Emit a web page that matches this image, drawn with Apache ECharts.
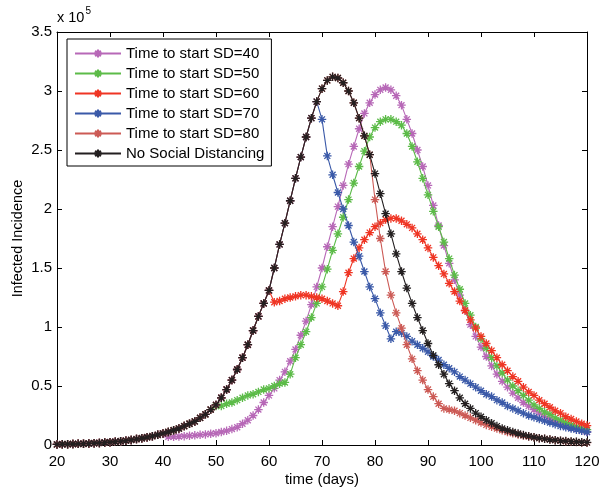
<!DOCTYPE html>
<html>
<head>
<meta charset="utf-8">
<script src="https://cdn.jsdelivr.net/npm/echarts@6/dist/echarts.min.js"></script>
<style>
html,body{margin:0;padding:0;background:#fff;}
#chart{width:599px;height:492px;}
</style>
</head>
<body>
<div id="chart"></div>
<script>
// x tick labels
const xTicks = [20, 30, 40, 50, 60, 70, 80, 90, 100, 110, 120];
// y tick labels (units of 10^5)
const yTicks = [0, 0.5, 1, 1.5, 2, 2.5, 3, 3.5];

const seriesNames = ['Time to start SD=40', 'Time to start SD=50', 'Time to start SD=60',
  'Time to start SD=70', 'Time to start SD=80', 'No Social Distancing'];

// Baseline (No Social Distancing), days 20..120, units of 10^5
const firstDay = 20;
const noSD = [
  0.005, 0.006, 0.007, 0.008, 0.010, 0.011, 0.013, 0.015, 0.018, 0.021,
  0.024, 0.028, 0.032, 0.037, 0.043, 0.050, 0.057, 0.066, 0.075, 0.086,
  0.098, 0.11, 0.125, 0.14, 0.16, 0.18, 0.20, 0.23, 0.26, 0.30,
  0.34, 0.40, 0.47, 0.55, 0.64, 0.74, 0.85, 0.97, 1.09, 1.20,
  1.31, 1.50, 1.70, 1.88, 2.07, 2.26, 2.44, 2.61, 2.77, 2.91,
  3.02, 3.09, 3.12, 3.11, 3.07, 3.00, 2.90, 2.77, 2.62, 2.46,
  2.30, 2.13, 1.96, 1.79, 1.62, 1.47, 1.33, 1.20, 1.08, 0.97,
  0.86, 0.76, 0.68, 0.60, 0.52, 0.46, 0.40, 0.35, 0.31, 0.27,
  0.24, 0.21, 0.185, 0.16, 0.14, 0.125, 0.11, 0.097, 0.085, 0.075,
  0.066, 0.058, 0.052, 0.046, 0.041, 0.037, 0.033, 0.030, 0.027, 0.024,
  0.022
];

// Each SD scenario coincides with the baseline until its departure day
const sd40Start = 41;
const sd40 = [
  0.07, 0.07, 0.072, 0.075, 0.078, 0.082, 0.086, 0.09, 0.095,
  0.10, 0.11, 0.12, 0.135, 0.15, 0.18, 0.21, 0.25, 0.30, 0.36,
  0.42, 0.48, 0.55, 0.62, 0.71, 0.81, 0.93, 1.05, 1.19, 1.34,
  1.50, 1.68, 1.85, 2.02, 2.20, 2.38, 2.53, 2.68, 2.81, 2.90,
  2.97, 3.01, 3.03, 3.01, 2.96, 2.88, 2.76, 2.64, 2.50, 2.36,
  2.20, 2.03, 1.86, 1.69, 1.54, 1.40, 1.27, 1.14, 1.02, 0.92,
  0.83, 0.75, 0.67, 0.60, 0.54, 0.49, 0.44, 0.40, 0.36, 0.33,
  0.30, 0.27, 0.245, 0.22, 0.20, 0.18, 0.165, 0.15, 0.135, 0.12,
  0.11
];
const sd50Start = 50;
const sd50 = [
  0.33, 0.33, 0.35, 0.36, 0.38, 0.40, 0.42, 0.43, 0.45, 0.47,
  0.48, 0.50, 0.52, 0.53, 0.60, 0.74, 0.85, 0.96, 1.08, 1.20,
  1.34, 1.49, 1.65, 1.79, 1.93, 2.08, 2.22, 2.36, 2.49, 2.61,
  2.69, 2.74, 2.76, 2.76, 2.74, 2.71, 2.64, 2.53, 2.40, 2.26,
  2.12, 1.98, 1.85, 1.72, 1.58, 1.44, 1.32, 1.20, 1.10, 1.00,
  0.90, 0.82, 0.74, 0.67, 0.61, 0.55, 0.50, 0.46, 0.42, 0.38,
  0.34, 0.31, 0.28, 0.26, 0.23, 0.21, 0.19, 0.17, 0.155, 0.14,
  0.13
];
const sd60Start = 61;
const sd60 = [
  1.21, 1.22, 1.24, 1.25, 1.26, 1.27, 1.27, 1.26, 1.25,
  1.24, 1.22, 1.20, 1.18, 1.30, 1.46, 1.58, 1.67, 1.74, 1.80,
  1.85, 1.88, 1.91, 1.92, 1.92, 1.90, 1.87, 1.84, 1.79, 1.74,
  1.67, 1.59, 1.52, 1.45, 1.37, 1.30, 1.22, 1.14, 1.06, 0.99,
  0.92, 0.86, 0.80, 0.74, 0.68, 0.63, 0.58, 0.54, 0.49, 0.45,
  0.42, 0.38, 0.35, 0.32, 0.29, 0.27, 0.24, 0.22, 0.20, 0.18,
  0.165
];
const sd70Start = 70;
const sd70 = [
  2.76, 2.45, 2.29, 2.14, 2.00, 1.86, 1.72, 1.60, 1.47, 1.34,
  1.24, 1.12, 1.01, 0.90, 0.96, 0.95, 0.92, 0.88, 0.85, 0.82,
  0.79, 0.75, 0.72, 0.68, 0.65, 0.62, 0.58, 0.55, 0.52, 0.49,
  0.46, 0.43, 0.41, 0.38, 0.36, 0.33, 0.31, 0.29, 0.27, 0.25,
  0.235, 0.22, 0.205, 0.19, 0.175, 0.16, 0.15, 0.14, 0.13, 0.12,
  0.11
];
const sd80Start = 80;
const sd80 = [
  2.08, 1.75, 1.47, 1.27, 1.12, 0.99, 0.85, 0.73, 0.63, 0.55,
  0.47, 0.41, 0.35, 0.31, 0.30, 0.29, 0.27, 0.25, 0.23, 0.21,
  0.19, 0.17, 0.155, 0.14, 0.125, 0.11, 0.10, 0.09, 0.08, 0.072,
  0.065, 0.058, 0.052, 0.046, 0.041, 0.036, 0.032, 0.028, 0.025, 0.022,
  0.02
];

const colors = ['#b768b7', '#5cbb48', '#ef3524', '#3a59a8', '#cc5a55', '#231f20'];

function build(start, vals) {
  const out = [];
  for (let d = firstDay; d < start; d++) out.push([d, noSD[d - firstDay]]);
  vals.forEach((v, i) => out.push([start + i, v]));
  return out;
}
const seriesData = [
  build(sd40Start, sd40), build(sd50Start, sd50), build(sd60Start, sd60),
  build(sd70Start, sd70), build(sd80Start, sd80), build(121, [])
];

const star = 'path://M5,0L5,10M0,5L10,5M1.5,1.5L8.5,8.5M8.5,1.5L1.5,8.5';
const font = "'Liberation Sans', Arial, Helvetica, sans-serif";

const chart = echarts.init(document.getElementById('chart'), null, {renderer: 'canvas'});

const axisCommon = {
  axisLine: {show: true, onZero: false, lineStyle: {color: '#000', width: 1}},
  axisTick: {show: true, inside: true, length: 5, lineStyle: {color: '#000', width: 1}},
  splitLine: {show: false}
};

chart.setOption({
  animation: false,
  backgroundColor: '#fff',
  textStyle: {fontFamily: font},
  grid: {left: 57, right: 12, top: 32, bottom: 47, containLabel: false, outerBoundsMode: 'none'},
  xAxis: [
    Object.assign({
      type: 'value', min: xTicks[0], max: xTicks[xTicks.length - 1], interval: 10,
      name: 'time (days)', nameLocation: 'middle', nameGap: 27, nameMoveOverlap: false,
      nameTextStyle: {fontSize: 15, color: '#000', fontFamily: font},
      axisLabel: {fontSize: 15, color: '#000', margin: 9, fontFamily: font}
    }, axisCommon),
    Object.assign({
      type: 'value', position: 'top', min: xTicks[0], max: xTicks[xTicks.length - 1], interval: 10,
      axisLabel: {show: false}
    }, axisCommon)
  ],
  yAxis: [
    Object.assign({
      type: 'value', min: yTicks[0], max: yTicks[yTicks.length - 1], interval: 0.5,
      name: 'Infected Incidence', nameLocation: 'middle', nameGap: 32, nameRotate: 90,
      nameMoveOverlap: false,
      nameTextStyle: {fontSize: 14.5, color: '#000', fontFamily: font},
      axisLabel: {fontSize: 15, color: '#000', margin: 5, fontFamily: font}
    }, axisCommon),
    Object.assign({
      type: 'value', position: 'right', min: yTicks[0], max: yTicks[yTicks.length - 1], interval: 0.5,
      axisLabel: {show: false}
    }, axisCommon)
  ],
  legend: {
    orient: 'vertical', left: 67, top: 39,
    padding: [7, 7, 5, 7],
    itemWidth: 46, itemHeight: 10, itemGap: 5,
    backgroundColor: '#fff', borderColor: '#000', borderWidth: 1, borderRadius: 0,
    selectedMode: false,
    textStyle: {fontSize: 15, color: '#000', fontFamily: font},
    data: seriesNames
  },
  graphic: [{
    type: 'text', left: 57, top: 6,
    style: {
      text: '{a|x 10}{b|5}',
      rich: {
        a: {fontSize: 14.5, fontFamily: font, fill: '#000', padding: [7, 0, 0, 0]},
        b: {fontSize: 10, fontFamily: font, fill: '#000', padding: [0, 0, 7, 1]}
      }
    }
  }],
  series: seriesNames.map((name, i) => ({
    name: name,
    type: 'line',
    data: seriesData[i],
    showSymbol: true,
    showAllSymbol: true,
    symbol: star,
    symbolSize: 8.5,
    lineStyle: {color: colors[i], width: 1.1},
    itemStyle: {color: colors[i], borderColor: colors[i], borderWidth: 1.3},
    emphasis: {disabled: true},
    z: 2 + i
  }))
});
</script>
</body>
</html>
